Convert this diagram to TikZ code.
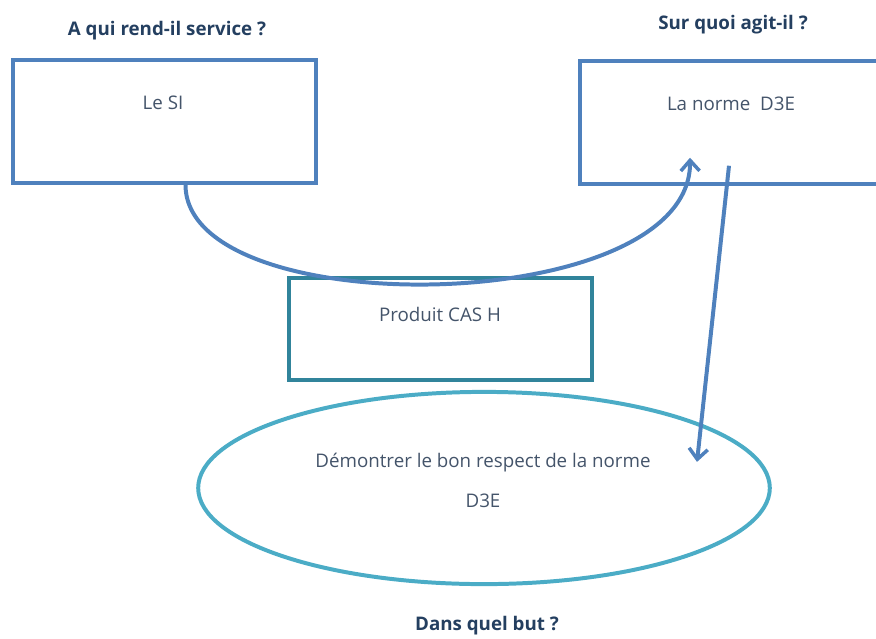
\documentclass[tikz,border=0pt]{standalone}
\usepackage{fontspec}
\setmainfont{Open Sans}
\usepackage{tikz}
\usetikzlibrary{calc,shapes.geometric,arrows.meta}

\definecolor{boxblue}{HTML}{4F81BD}
\definecolor{boxteal}{HTML}{31849B}
\definecolor{ringcyan}{HTML}{4BACC6}
\definecolor{txtgray}{HTML}{44546A}
\definecolor{headnavy}{HTML}{243F60}

\begin{document}
\begin{tikzpicture}[x=0.03cm, y=-0.03cm,
    roleBox/.style={draw=boxblue, line width=3.4pt, fill=white, minimum width=305*0.85pt, minimum height=123*0.85pt},
    prodBox/.style={draw=boxteal, line width=3.4pt, fill=white, minimum width=305*0.85pt, minimum height=102*0.85pt},
    goalRing/.style={draw=ringcyan, line width=3.4pt, ellipse, minimum width=574*0.85pt, minimum height=193*0.85pt},
    bodyText/.style={font=\fontsize{16}{19}\selectfont, text=txtgray},
    headText/.style={font=\fontsize{16}{19}\selectfont\bfseries, text=headnavy},
    link/.style={draw=boxblue, line width=3.4pt, -{Straight Barb[length=9pt,width=16pt,line width=3pt]}}]
  \useasboundingbox (0,0) rectangle (876,638);
  % boxes
  \node[roleBox] (si) at (164.5,121.5) {};
  \node[roleBox] (norme) at (732,122.5) {};
  \node[prodBox] (prod) at (440.5,329) {};
  \node[goalRing] (goal) at (484,488) {};
  % texts
  \node[bodyText] (siTxt) at (163,103) {Le SI};
  \node[bodyText] (normeTxt) at (731,104) {La norme\ \ D3E};
  \node[bodyText] (prodTxt) at (440,314) {Produit CAS H};
  \node[bodyText] (goalTxtA) at (483,463) {Démontrer le bon respect de la norme};
  \node[bodyText] (goalTxtB) at (483,501) {D3E};
  \node[headText] (qHead) at (167,31) {A qui rend-il service ?};
  \node[headText] (quoiHead) at (733,25) {Sur quoi agit-il ?};
  \node[headText] (butHead) at (487,626) {Dans quel but ?};
  % connectors
  \coordinate (siOut) at ($(si.south)+(21,0)$);
  \coordinate (normeIn) at ($(norme.south)+(-42,-28)$);
  \coordinate (normeOut) at ($(norme.south)+(-3,-20)$);
  \coordinate (goalIn) at ($(goal.north)+(213,72)$);
  \draw[link] (siOut) .. controls ($(siOut)+(0,140)$) and ($(normeIn)+(2,160)$) .. (normeIn);
  \draw[link] (normeOut) -- (goalIn);
\end{tikzpicture}
\end{document}
